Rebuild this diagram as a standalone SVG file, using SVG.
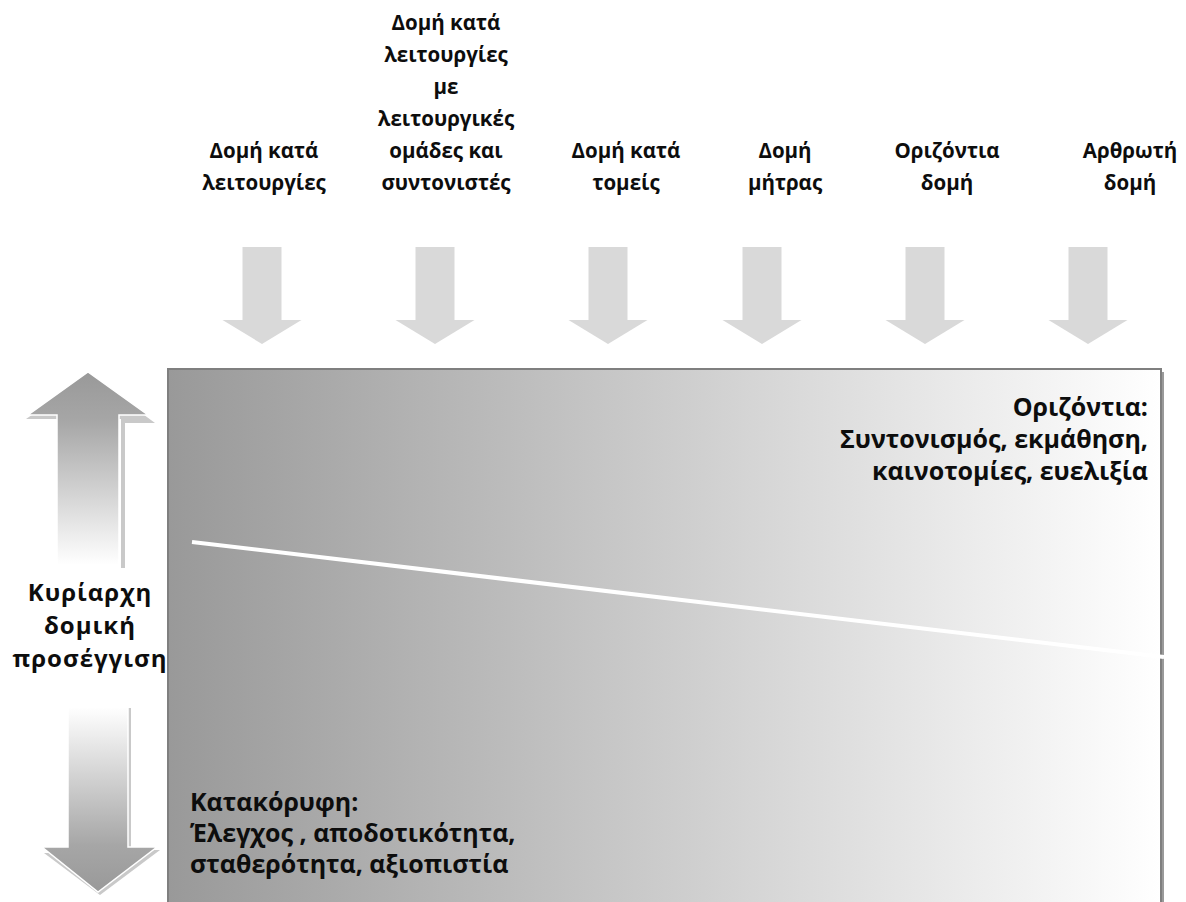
<svg xmlns="http://www.w3.org/2000/svg" width="1186" height="902" viewBox="0 0 1186 902">
  <style>
    .lbl { font-family: "Open Sans", "Noto Sans", "DejaVu Sans", sans-serif; font-weight: bold; font-size: 20.5px; fill: #0d0d0d; }
    .big { font-size: 25px; }
    .side { font-size: 24px; letter-spacing: 1px; }
    .mid { text-anchor: middle; }
    .end { text-anchor: end; }
    .drop { fill: #d9d9d9; }
    .shadow { fill: #c9c9c9; }
  </style>
  <defs>
    <linearGradient id="panelFill" x1="0" y1="0" x2="1" y2="0">
      <stop offset="0" stop-color="#999999"/>
      <stop offset="1" stop-color="#ffffff"/>
    </linearGradient>
    <linearGradient id="upFill" x1="0" y1="372" x2="0" y2="565" gradientUnits="userSpaceOnUse">
      <stop offset="0" stop-color="#999999"/>
      <stop offset="0.25" stop-color="#a6a6a6"/>
      <stop offset="1" stop-color="#ffffff"/>
    </linearGradient>
    <linearGradient id="downFill" x1="0" y1="707" x2="0" y2="892" gradientUnits="userSpaceOnUse">
      <stop offset="0" stop-color="#ffffff"/>
      <stop offset="0.75" stop-color="#a6a6a6"/>
      <stop offset="1" stop-color="#999999"/>
    </linearGradient>
    <!-- block arrow pointing down, centred on x=0, top at y=0 -->
    <polygon id="dropArrow" points="-19.5,0 19.5,0 19.5,73 39.5,73 0,97 -39.5,73 -19.5,73"/>
  </defs>

  <!-- main panel with its drop shadow and the dividing line -->
  <g id="panel">
    <rect x="171" y="372" width="993" height="540" fill="#9a9a9a"/>
    <rect x="168" y="369" width="993" height="540" fill="url(#panelFill)" stroke="#7f7f7f" stroke-width="2"/>
    <line x1="192" y1="542" x2="1164" y2="657" stroke="#ffffff" stroke-width="4"/>
  </g>

  <!-- structure types along the top -->
  <g id="col-functional">
    <text class="lbl mid" x="264" y="158">Δομή κατά</text>
    <text class="lbl mid" x="264" y="190">λειτουργίες</text>
    <use href="#dropArrow" class="drop" x="262" y="247"/>
  </g>
  <g id="col-functional-teams">
    <text class="lbl mid" x="446" y="30">Δομή κατά</text>
    <text class="lbl mid" x="446" y="62">λειτουργίες</text>
    <text class="lbl mid" x="446" y="94">με</text>
    <text class="lbl mid" x="446" y="126">λειτουργικές</text>
    <text class="lbl mid" x="446" y="158">ομάδες και</text>
    <text class="lbl mid" x="446" y="190">συντονιστές</text>
    <use href="#dropArrow" class="drop" x="435" y="247"/>
  </g>
  <g id="col-divisional">
    <text class="lbl mid" x="626" y="158">Δομή κατά</text>
    <text class="lbl mid" x="626" y="190">τομείς</text>
    <use href="#dropArrow" class="drop" x="608" y="247"/>
  </g>
  <g id="col-matrix">
    <text class="lbl mid" x="785" y="158">Δομή</text>
    <text class="lbl mid" x="785" y="190">μήτρας</text>
    <use href="#dropArrow" class="drop" x="762" y="247"/>
  </g>
  <g id="col-horizontal">
    <text class="lbl mid" x="947" y="158">Οριζόντια</text>
    <text class="lbl mid" x="947" y="190">δομή</text>
    <use href="#dropArrow" class="drop" x="925" y="247"/>
  </g>
  <g id="col-modular">
    <text class="lbl mid" x="1130" y="158">Αρθρωτή</text>
    <text class="lbl mid" x="1130" y="190">δομή</text>
    <use href="#dropArrow" class="drop" x="1088" y="247"/>
  </g>

  <!-- corner captions -->
  <g id="horizontal-caption">
    <text class="lbl big end" x="1148" y="416">Οριζόντια:</text>
    <text class="lbl big end" x="1148" y="448">Συντονισμός, εκμάθηση,</text>
    <text class="lbl big end" x="1148" y="480">καινοτομίες, ευελιξία</text>
  </g>
  <g id="vertical-caption">
    <text class="lbl big" x="190" y="811">Κατακόρυφη:</text>
    <text class="lbl big" x="190" y="842">Έλεγχος , αποδοτικότητα,</text>
    <text class="lbl big" x="190" y="873">σταθερότητα, αξιοπιστία</text>
  </g>

  <!-- left axis -->
  <g id="axis-up">
    <polygon class="shadow" points="90,375 155,423 125,423 125,568 121,568 121,419 26,419"/>
    <polygon points="88,372 148,415 119,415 119,565 57,565 57,415 28,415" fill="url(#upFill)" stroke="#ffffff" stroke-width="1.5"/>
  </g>
  <g id="axis-label">
    <text class="lbl side mid" x="90" y="601">Κυρίαρχη</text>
    <text class="lbl side mid" x="90" y="634">δομική</text>
    <text class="lbl side mid" x="90" y="667">προσέγγιση</text>
  </g>
  <g id="axis-down">
    <polygon class="shadow" points="131,708 131,850 160,850 100,895 44,853 124,853 124,708"/>
    <polygon points="68,707 128,707 128,847 157,847 98,892 42,847 68,847" fill="url(#downFill)" stroke="#ffffff" stroke-width="1.5"/>
  </g>
</svg>
